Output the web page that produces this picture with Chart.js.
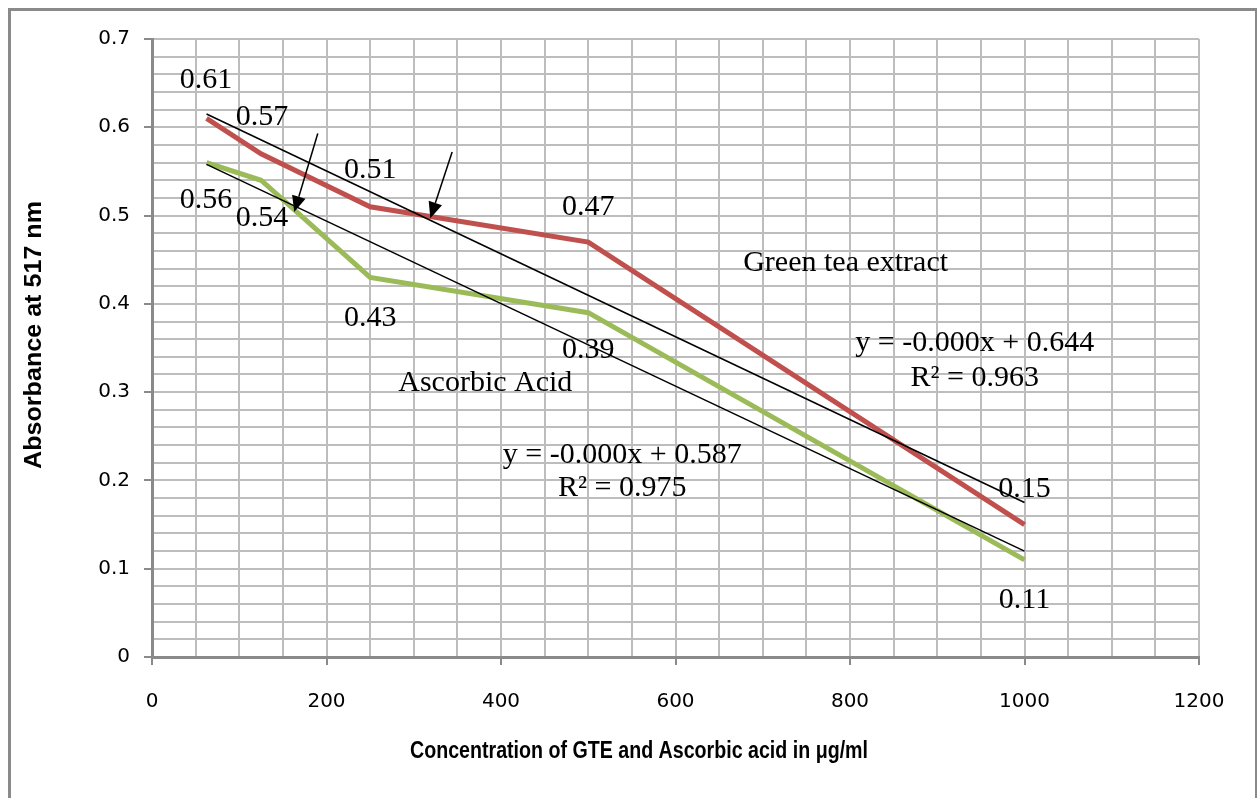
<!DOCTYPE html>
<html lang="en">

<head>
    <meta charset="UTF-8">
    <title>Absorbance</title>
    <style>
        * {
            margin: 0;
            padding: 0;
        }

        body {
            width: 1257px;
            height: 798px;
            position: relative;
            background: #fff;
            overflow: hidden;
        }

        #frame {
            position: absolute;
            left: 8px;
            top: 8px;
            width: 1244px;
            height: 800px;
            border: 3px solid #8a8a8a;
        }

        #myChart {
            position: absolute;
            left: 0;
            top: 0;
        }
    </style>
</head>

<body>
    <div id="frame"></div>
    <canvas id="myChart" width="1257" height="798"></canvas>
</body>
<script src="https://cdn.jsdelivr.net/npm/chart.js@4.4.1/dist/chart.umd.min.js"></script>

<script>
    // concentrations (ug/ml)
    const conc = [62.5, 125, 250, 500, 1000];
    const gte = [0.61, 0.57, 0.51, 0.47, 0.15];
    const ascorbic = [0.56, 0.54, 0.43, 0.39, 0.11];

    // linear trendline end points
    const trendX = [62.5, 1000];
    const gteTrend = [0.615, 0.175];
    const ascTrend = [0.558, 0.12];

    const xTitle = 'Concentration of GTE and Ascorbic acid in \u03bcg/ml';
    const yTitle = 'Absorbance at 517 nm';

    // free text on the chart: [text, x, y]
    const notes = [
        ['0.61', 62, 0.653], ['0.57', 126, 0.612], ['0.51', 250, 0.552], ['0.47', 500, 0.510], ['0.15', 1000, 0.190],
        ['0.56', 62, 0.518], ['0.54', 126, 0.497], ['0.43', 250, 0.384], ['0.39', 500, 0.348], ['0.11', 1000, 0.064],
        ['Green tea extract', 795, 0.446],
        ['y = -0.000x + 0.644', 943, 0.356], ['R\u00b2 = 0.963', 943, 0.316],
        ['Ascorbic Acid', 382, 0.310],
        ['y = -0.000x + 0.587', 539, 0.229], ['R\u00b2 = 0.975', 539, 0.191]
    ];
    // arrows: [fromX, fromY, toX, toY]
    const arrows = [
        [190, 0.593, 163, 0.504],
        [344, 0.572, 319, 0.497]
    ];

    const pts = (xs, ys) => xs.map((x, i) => ({ x: x, y: ys[i] }));

    // draw text squeezed/stretched to a given width
    function fitText(ctx, text, width) {
        const w = ctx.measureText(text).width;
        ctx.save();
        ctx.scale(width / w, 1);
        ctx.fillText(text, 0, 0);
        ctx.restore();
    }

    const extras = {
        id: 'extras',
        afterDatasetsDraw(chart) {
            const ctx = chart.ctx;
            const xs = chart.scales.x, ys = chart.scales.y;
            ctx.save();
            ctx.fillStyle = '#000';
            ctx.font = '30px "Liberation Serif", "Times New Roman", serif';
            ctx.textAlign = 'center';
            ctx.textBaseline = 'middle';
            notes.forEach(n => ctx.fillText(n[0], xs.getPixelForValue(n[1]), ys.getPixelForValue(n[2])));

            ctx.strokeStyle = '#000';
            ctx.lineWidth = 1.5;
            arrows.forEach(a => {
                const x1 = xs.getPixelForValue(a[0]), y1 = ys.getPixelForValue(a[1]);
                const x2 = xs.getPixelForValue(a[2]), y2 = ys.getPixelForValue(a[3]);
                const ang = Math.atan2(y2 - y1, x2 - x1);
                const hl = 16, hw = 7;
                const bx = x2 - hl * Math.cos(ang), by = y2 - hl * Math.sin(ang);
                ctx.beginPath();
                ctx.moveTo(x1, y1);
                ctx.lineTo(bx, by);
                ctx.stroke();
                ctx.beginPath();
                ctx.moveTo(x2, y2);
                ctx.lineTo(bx + hw * Math.sin(ang), by - hw * Math.cos(ang));
                ctx.lineTo(bx - hw * Math.sin(ang), by + hw * Math.cos(ang));
                ctx.closePath();
                ctx.fill();
            });

            // axis titles, narrow bold like the original
            ctx.font = 'bold 23px "Liberation Sans", Arial, sans-serif';
            ctx.save();
            ctx.translate(639, 752);
            fitText(ctx, xTitle, 458);
            ctx.restore();

            ctx.save();
            ctx.translate(35, 335);
            ctx.rotate(-Math.PI / 2);
            fitText(ctx, yTitle, 268);
            ctx.restore();
            ctx.restore();
        }
    };

    const gridColor = '#bdbdbd';
    const axisColor = '#8a8a8a';
    const isMajorY = v => Math.abs(v * 10 - Math.round(v * 10)) < 1e-6;

    new Chart('myChart', {
        type: 'line',
        data: {
            datasets: [{
                label: 'Green tea extract',
                data: pts(conc, gte),
                borderColor: '#c0504d',
                borderWidth: 5,
                order: 2
            }, {
                label: 'Ascorbic Acid',
                data: pts(conc, ascorbic),
                borderColor: '#9bbb59',
                borderWidth: 5,
                order: 2
            }, {
                label: 'GTE trend',
                data: pts(trendX, gteTrend),
                borderColor: '#000',
                borderWidth: 1.5,
                order: 1
            }, {
                label: 'AA trend',
                data: pts(trendX, ascTrend),
                borderColor: '#000',
                borderWidth: 1.5,
                order: 1
            }]
        },
        options: {
            responsive: false,
            animation: false,
            elements: { point: { radius: 0 }, line: { tension: 0 } },
            layout: { padding: { left: 0, right: 58, top: 39, bottom: 0 } },
            plugins: {
                legend: { display: false },
                tooltip: { enabled: false }
            },
            scales: {
                x: {
                    type: 'linear',
                    min: 0,
                    max: 1200,
                    afterFit(scale) { scale.height = 141; },
                    ticks: {
                        stepSize: 50,
                        autoSkip: false,
                        maxRotation: 0,
                        padding: 25,
                        color: '#000',
                        font: { family: '"DejaVu Sans", sans-serif', size: 20 },
                        callback: v => (v % 200 === 0 ? v : '')
                    },
                    grid: {
                        color: gridColor,
                        lineWidth: 2,
                        tickLength: 8,
                        tickColor: c => (c.tick && c.tick.value % 200 === 0 ? axisColor : 'rgba(0,0,0,0)')
                    },
                    border: { color: axisColor, width: 3 }
                },
                y: {
                    min: 0,
                    max: 0.7,
                    afterFit(scale) { scale.width = 152; },
                    ticks: {
                        stepSize: 0.02,
                        autoSkip: false,
                        padding: 14,
                        color: '#000',
                        font: { family: '"DejaVu Sans", sans-serif', size: 20 },
                        callback: v => (isMajorY(v) ? String(Math.round(v * 10) / 10) : '')
                    },
                    grid: {
                        color: gridColor,
                        lineWidth: 2,
                        tickLength: 8,
                        tickColor: c => (c.tick && isMajorY(c.tick.value) ? axisColor : 'rgba(0,0,0,0)')
                    },
                    border: { color: axisColor, width: 3 }
                }
            }
        },
        plugins: [extras]
    });
</script>

</html>
